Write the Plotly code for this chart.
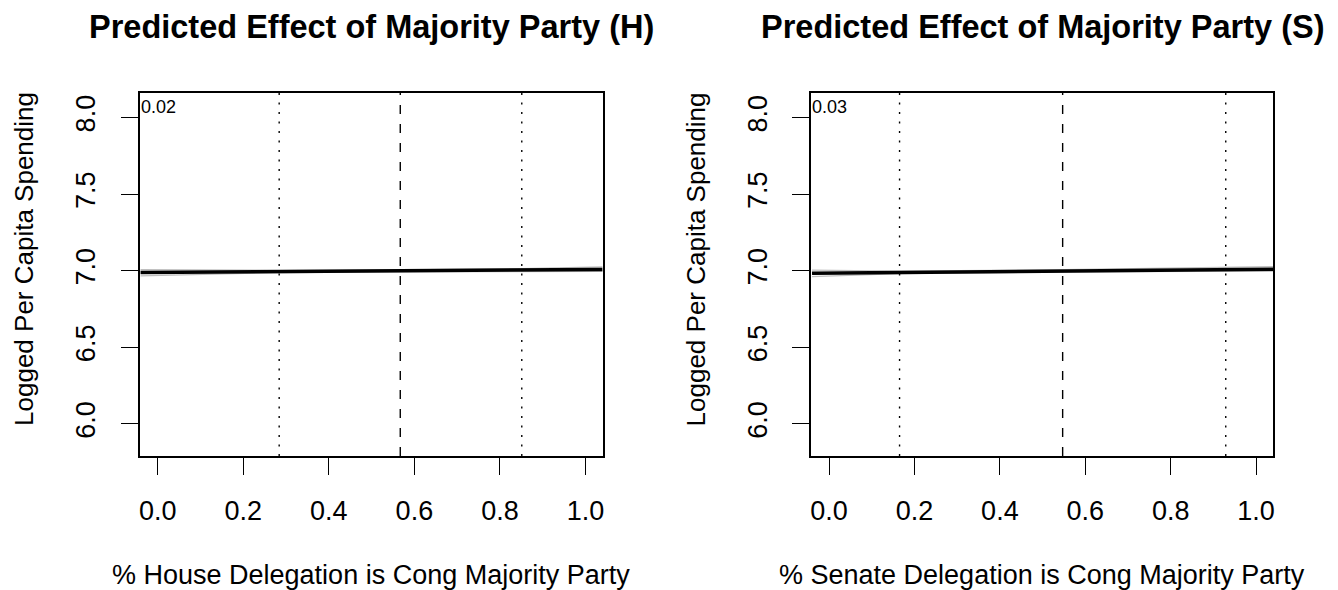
import plotly.graph_objects as go

# --- data -------------------------------------------------------------
x_ends = [-0.04, 1.04]

# House panel: fitted line and confidence bounds
house_fit = [6.989, 7.009]
house_ci_x = [-0.04, 0.28, 0.567, 0.85, 1.04]
house_ci_lo = [6.967, 6.988, 6.994, 6.993, 6.996]
house_ci_hi = [7.007, 7.003, 7.006, 7.014, 7.025]
house_mean = 0.567
house_sd_lo = 0.284
house_sd_hi = 0.851
house_coef = "0.02"

# Senate panel: fitted line and confidence bounds
senate_fit = [6.984, 7.011]
senate_ci_x = [-0.04, 0.165, 0.547, 0.929, 1.04]
senate_ci_lo = [6.962, 6.982, 6.993, 6.996, 6.998]
senate_ci_hi = [7.004, 6.998, 7.007, 7.022, 7.028]
senate_mean = 0.547
senate_sd_lo = 0.165
senate_sd_hi = 0.929
senate_coef = "0.03"

x_ticks = [0.0, 0.2, 0.4, 0.6, 0.8, 1.0]
x_tick_text = ["0.0", "0.2", "0.4", "0.6", "0.8", "1.0"]
y_ticks = [6.0, 6.5, 7.0, 7.5, 8.0]
y_tick_text = ["6.0", "6.5", "7.0", "7.5", "8.0"]

titles = ["Predicted Effect of Majority Party (H)", "Predicted Effect of Majority Party (S)"]
x_titles = ["% House Delegation is Cong Majority Party", "% Senate Delegation is Cong Majority Party"]
y_title = "Logged Per Capita Spending"

# --- layout constants ---------------------------------------------------
W, H = 1338, 590
FONT = "Liberation Sans, Arial, Helvetica, sans-serif"
X_RANGE = [-0.042, 1.04]
Y_RANGE = [5.791, 8.161]
top_px, bot_px = 93, 456
y_dom = [1 - bot_px / H, 1 - top_px / H]
x_doms = [[139 / W, 603 / W], [812 / W, 1275 / W]]

fig = go.Figure()

panels = [
    (house_fit, house_ci_x, house_ci_lo, house_ci_hi, house_mean, house_sd_lo, house_sd_hi, house_coef),
    (senate_fit, senate_ci_x, senate_ci_lo, senate_ci_hi, senate_mean, senate_sd_lo, senate_sd_hi, senate_coef),
]

for i, (fit, cx, lo, hi, mean, sdl, sdh, coef) in enumerate(panels):
    xa = "x" if i == 0 else "x2"
    ya = "y" if i == 0 else "y2"
    # confidence bounds (grey)
    for band in (lo, hi):
        fig.add_trace(go.Scatter(x=cx, y=band, mode="lines", xaxis=xa, yaxis=ya,
                                 line=dict(color="#bebebe", width=1.3),
                                 showlegend=False, hoverinfo="skip"))
    # fitted line
    fig.add_trace(go.Scatter(x=x_ends, y=fit, mode="lines", xaxis=xa, yaxis=ya,
                             line=dict(color="black", width=3.5),
                             showlegend=False, hoverinfo="skip"))
    # mean (dashed) and +/- one sd (dotted) reference lines
    for xv, dash in ((sdl, "2px,7.5px"), (mean, "9px,10px"), (sdh, "2px,7.5px")):
        fig.add_shape(type="line", xref=xa, yref=f"{ya} domain", x0=xv, x1=xv, y0=0, y1=1,
                      line=dict(color="black", width=1.4, dash=dash))
    # coefficient label in the upper-left corner
    fig.add_annotation(x=X_RANGE[0], y=8.068, xref=xa, yref=ya, text=coef, showarrow=False,
                       xanchor="left", yanchor="middle", borderpad=0,
                       font=dict(family=FONT, size=18, color="black"))
    cx_px = (x_doms[i][0] + x_doms[i][1]) / 2
    # panel title
    fig.add_annotation(x=cx_px, y=1 - 27 / H, xref="paper", yref="paper", text=f"<b>{titles[i]}</b>",
                       showarrow=False, xanchor="center", yanchor="middle",
                       font=dict(family=FONT, size=32.5, color="black"))
    # x axis title
    fig.add_annotation(x=cx_px, y=1 - 575 / H, xref="paper", yref="paper", text=x_titles[i],
                       showarrow=False, xanchor="center", yanchor="middle",
                       font=dict(family=FONT, size=27, color="black"))
    # y axis title
    ytx = [23, 697][i]
    fig.add_annotation(x=ytx / W, y=1 - 259 / H, xref="paper", yref="paper", text=y_title,
                       showarrow=False, xanchor="center", yanchor="middle", textangle=-90,
                       font=dict(family=FONT, size=26, color="black"))

axis_common = dict(showgrid=False, zeroline=False, showline=True, linecolor="black", linewidth=1.5,
                   mirror=True, ticks="outside", ticklen=17, tickwidth=1.3, tickcolor="black",
                   tickfont=dict(family=FONT, size=27, color="black"))

for i in range(2):
    sfx = "" if i == 0 else "2"
    fig.update_layout(**{
        f"xaxis{sfx}": dict(domain=x_doms[i], range=X_RANGE, tickvals=x_ticks, ticktext=x_tick_text,
                            anchor=f"y{sfx}", ticklabelstandoff=13, **axis_common),
        f"yaxis{sfx}": dict(domain=y_dom, range=Y_RANGE, tickvals=y_ticks, ticktext=y_tick_text,
                            anchor=f"x{sfx}", tickangle=-90, ticklabelstandoff=15, **axis_common),
    })

fig.update_layout(width=W, height=H, margin=dict(l=0, r=0, t=0, b=0),
                  paper_bgcolor="white", plot_bgcolor="white", showlegend=False,
                  font=dict(family=FONT, color="black"))

fig.write_html("out.html")
